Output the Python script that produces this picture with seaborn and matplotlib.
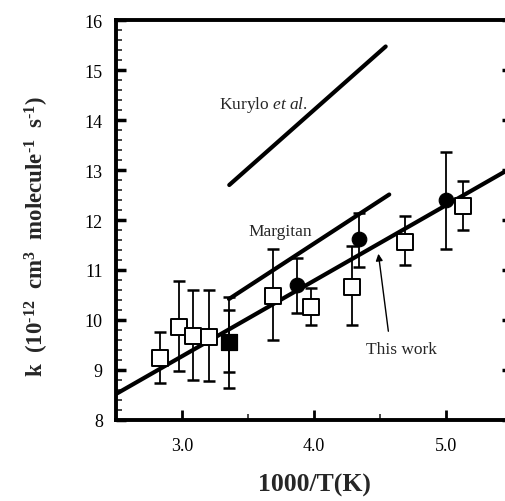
import matplotlib
matplotlib.use("Agg")
import matplotlib.pyplot as plt
from matplotlib.ticker import MultipleLocator
import seaborn as sns
import pandas as pd

# ---- data ----
sq_x = [2.83, 2.977, 3.086, 3.205, 3.692, 3.975, 4.29, 4.69, 5.126]
sq_y = [9.24, 9.87, 9.69, 9.67, 10.49, 10.27, 10.67, 11.57, 12.29]
sq_lo = [8.75, 8.99, 8.81, 8.79, 9.60, 9.90, 9.90, 11.10, 11.80]
sq_hi = [9.77, 10.79, 10.61, 10.61, 11.42, 10.65, 11.49, 12.09, 12.79]

ci_x = [3.873, 4.341, 4.998]
ci_y = [10.71, 11.62, 12.40]
ci_lo = [10.15, 11.07, 11.42]
ci_hi = [11.24, 12.15, 13.37]

fs_x = [3.356]
fs_y = [9.57]
fs_lo = [8.64, 8.97]
fs_hi = [10.47, 10.20]

this_x = [2.50, 5.50]
this_y = [8.52, 13.05]
marg_x = [3.356, 4.570]
marg_y = [10.42, 12.51]
kury_x = [3.358, 4.543]
kury_y = [12.70, 15.47]

xticks = [3.0, 4.0, 5.0]
xtick_labels = ["3.0", "4.0", "5.0"]
yticks = [8, 9, 10, 11, 12, 13, 14, 15, 16]

# ---- style ----
sns.set_style("ticks")
plt.rcParams["font.family"] = ["Liberation Serif", "DejaVu Serif"]
plt.rcParams["mathtext.fontset"] = "custom"
plt.rcParams["mathtext.rm"] = "Liberation Serif"
plt.rcParams["mathtext.it"] = "Liberation Serif:italic"
plt.rcParams["mathtext.bf"] = "Liberation Serif:bold"

W, H = 506, 502
fig = plt.figure(figsize=(W / 100, H / 100), dpi=100)
left, right, top, bottom = 116, 512, 21, 421
ax = fig.add_axes([left / W, 1 - bottom / H, (right - left) / W, (bottom - top) / H])

# fit lines
for xs, ys in [(this_x, this_y), (marg_x, marg_y), (kury_x, kury_y)]:
    sns.lineplot(x=xs, y=ys, ax=ax, color="black", linewidth=3.0,
                 solid_capstyle="round", zorder=2)

# error bars
def ebars(xs, ys, lo, hi):
    ax.errorbar(xs, ys, yerr=[[y - l for y, l in zip(ys, lo)], [h - y for y, h in zip(ys, hi)]],
                fmt="none", ecolor="black", elinewidth=1.3, capsize=4.5, capthick=1.8, zorder=3)

ebars(sq_x, sq_y, sq_lo, sq_hi)
ebars(ci_x, ci_y, ci_lo, ci_hi)
ebars(fs_x * 2, fs_y * 2, fs_lo, fs_hi)

# markers
sns.scatterplot(data=pd.DataFrame({"x": sq_x, "y": sq_y}), x="x", y="y", ax=ax,
                marker="s", s=120, facecolor="white", edgecolor="black", linewidth=1.4, zorder=4)
sns.scatterplot(data=pd.DataFrame({"x": ci_x, "y": ci_y}), x="x", y="y", ax=ax,
                marker="o", s=110, color="black", edgecolor="black", zorder=4)
sns.scatterplot(data=pd.DataFrame({"x": fs_x, "y": fs_y}), x="x", y="y", ax=ax,
                marker="s", s=120, color="black", edgecolor="black", zorder=4)

# annotations
ax.text(3.28, 14.25, "Kurylo $\\it{et\\ al.}$", fontsize=12.5, ha="left", va="baseline")
ax.text(3.50, 11.7, "Margitan", fontsize=12.5, ha="left", va="baseline")
ax.text(4.394, 9.35, "This work", fontsize=12.5, ha="left", va="baseline")
ax.annotate("", xy=(4.485, 11.38), xytext=(4.566, 9.72),
            arrowprops=dict(arrowstyle="-|>", color="black", lw=1.0, mutation_scale=10))

ax.set_xlim(2.5, 2.5 + (right - left) / 132)
ax.set_ylim(8, 16)
ax.set_xticks(xticks)
ax.set_xticklabels(xtick_labels)
ax.set_yticks(yticks)
ax.xaxis.set_minor_locator(MultipleLocator(0.5))
ax.yaxis.set_minor_locator(MultipleLocator(0.2))
ax.tick_params(axis="both", which="major", direction="in", length=7, width=2,
               labelsize=13, colors="black", pad=9.5)
ax.tick_params(axis="both", which="minor", direction="in", length=4, width=1.2)
ax.tick_params(axis="x", which="major", pad=12)
ax.tick_params(axis="y", which="major", right=True, width=2.5)
ax.tick_params(axis="y", which="minor", right=False)

for side in ["left", "bottom", "top", "right"]:
    ax.spines[side].set_linewidth(2.8)
    ax.spines[side].set_color("black")

ax.set_xlabel("1000/T(K)", fontsize=18.5, fontweight="bold", labelpad=14)
ax.set_ylabel("k  (10$^{\\mathbf{\u201012}}$  cm$^{\\mathbf{3}}$  molecule$^{\\mathbf{\u20101}}$  s$^{\\mathbf{\u20101}}$)",
              fontsize=16.5, fontweight="bold")
ax.yaxis.set_label_coords(-0.165, 0.46)

fig.savefig("out.png", dpi=100)
